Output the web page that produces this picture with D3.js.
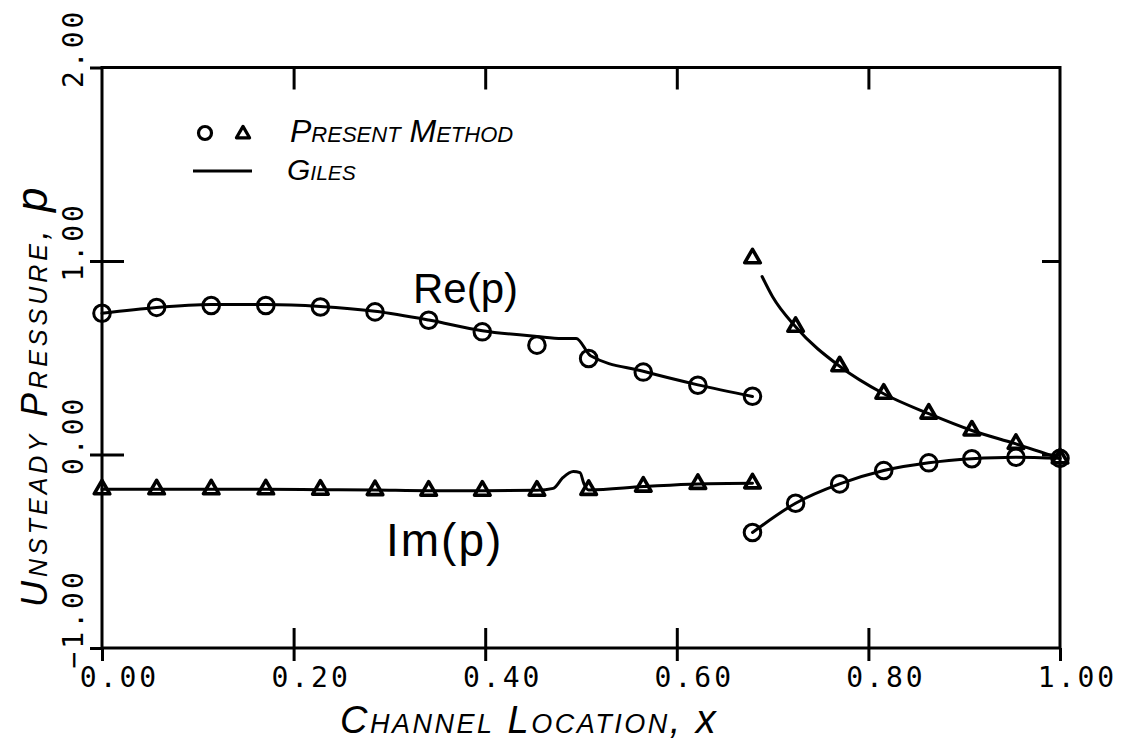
<!DOCTYPE html>
<html>
<head>
<meta charset="utf-8">
<script src="https://cdn.jsdelivr.net/npm/d3@7"></script>
<style>
  html, body { margin: 0; padding: 0; background: #fff; }
  svg { display: block; }
  .hand { font-family: "Liberation Sans", Arial, sans-serif; font-style: italic; font-variant: small-caps; fill: #000; }
  .lower { font-variant: normal; }
  .tick text { font-family: "DejaVu Sans Mono", monospace; font-size: 28px; letter-spacing: 3px; fill: #000; }
</style>
</head>
<body>
<svg id="chart" width="1122" height="747"></svg>
<script>
// Channel locations of the computed points
const xLeft  = [0.0, 0.057, 0.114, 0.171, 0.228, 0.285, 0.341, 0.397, 0.454, 0.508, 0.565, 0.622, 0.679];
const xRight = [0.679, 0.724, 0.770, 0.816, 0.863, 0.908, 0.954, 1.0];

// Present method, upstream part of the channel
const reLeft = [0.73, 0.76, 0.77, 0.77, 0.762, 0.737, 0.694, 0.634, 0.565, 0.496, 0.426, 0.358, 0.301];
const imLeft = [-0.18, -0.18, -0.18, -0.18, -0.182, -0.184, -0.187, -0.187, -0.187, -0.183, -0.166, -0.152, -0.149];

// Present method, downstream part of the channel
const triRight = [1.014, 0.66, 0.456, 0.314, 0.211, 0.124, 0.055, -0.02];
const cirRight = [-0.403, -0.252, -0.152, -0.083, -0.043, -0.022, -0.014, -0.02];

// Giles solution (solid lines)
const gilesReX = [0.0, 0.057, 0.114, 0.171, 0.228, 0.285, 0.341, 0.397, 0.454, 0.48, 0.495, 0.51, 0.565, 0.622, 0.679];
const gilesReY = [0.73, 0.76, 0.775, 0.775, 0.765, 0.74, 0.695, 0.64, 0.61, 0.60, 0.60, 0.51, 0.43, 0.36, 0.30];

const gilesImX = [0.0, 0.057, 0.114, 0.171, 0.228, 0.285, 0.341, 0.397, 0.454, 0.471, 0.481, 0.492, 0.499, 0.503, 0.508, 0.565, 0.622, 0.679];
const gilesImY = [-0.18, -0.18, -0.18, -0.18, -0.182, -0.184, -0.187, -0.187, -0.185, -0.175, -0.12, -0.088, -0.094, -0.15, -0.183, -0.166, -0.152, -0.149];

const gilesUpX = [0.689, 0.70, 0.724, 0.770, 0.816, 0.863, 0.908, 0.954, 1.0];
const gilesUpY = [0.92, 0.815, 0.66, 0.456, 0.314, 0.211, 0.124, 0.055, -0.02];

const gilesLoX = xRight;
const gilesLoY = [-0.403, -0.252, -0.152, -0.083, -0.043, -0.022, -0.014, -0.02];

// Axis ticks
const xTicks = [0.0, 0.2, 0.4, 0.6, 0.8, 1.0];
const xInnerTicks = [0.2, 0.4, 0.6, 0.8];
const yTicks = [-1.0, 0.0, 1.0, 2.0];
const yInnerTicks = [0.0, 1.0];

const svg = d3.select("#chart");
const x = d3.scaleLinear().domain([0, 1]).range([102, 1060]);
const y = d3.scaleLinear().domain([-1, 2]).range([648, 67.5]);

const fmt = d3.format(".2f");
const AX = 3;

// plotting frame
svg.append("rect")
  .attr("x", x(0)).attr("y", y(2))
  .attr("width", x(1) - x(0)).attr("height", y(-1) - y(2))
  .attr("fill", "none").attr("stroke", "#000").attr("stroke-width", AX);

function styleAxis(g) {
  g.select(".domain").remove();
  g.selectAll(".tick line").attr("stroke", "#000").attr("stroke-width", AX);
}

// bottom axis: outer ticks with labels
svg.append("g").attr("transform", `translate(0,${y(-1)})`)
  .call(d3.axisBottom(x).tickValues(xTicks).tickSize(13).tickFormat(fmt))
  .call(styleAxis)
  .call(g => g.selectAll(".tick text").attr("x", 17).attr("y", 39).attr("dy", 0));
// bottom axis: inner ticks
svg.append("g").attr("transform", `translate(0,${y(-1)})`)
  .call(d3.axisTop(x).tickValues(xInnerTicks).tickSize(20).tickFormat(""))
  .call(styleAxis);
// top axis: inner ticks
svg.append("g").attr("transform", `translate(0,${y(2)})`)
  .call(d3.axisBottom(x).tickValues(xInnerTicks).tickSize(22).tickFormat(""))
  .call(styleAxis);

// left axis: outer ticks with rotated labels
svg.append("g").attr("transform", `translate(${x(0)},0)`)
  .call(d3.axisLeft(y).tickValues(yTicks).tickSize(12).tickFormat(fmt))
  .call(styleAxis)
  .call(g => g.selectAll(".tick text")
    .attr("x", 0).attr("y", 0).attr("dy", 0)
    .attr("text-anchor", "start")
    .attr("transform", "translate(-19,20) rotate(-90)"));
// left axis: inner ticks
svg.append("g").attr("transform", `translate(${x(0)},0)`)
  .call(d3.axisRight(y).tickValues(yInnerTicks).tickSize(22).tickFormat(""))
  .call(styleAxis);
// right axis: inner ticks
svg.append("g").attr("transform", `translate(${x(1)},0)`)
  .call(d3.axisLeft(y).tickValues(yInnerTicks).tickSize(18).tickFormat(""))
  .call(styleAxis);

// Giles curves
const line = d3.line().x(d => x(d[0])).y(d => y(d[1])).curve(d3.curveMonotoneX);
const curves = [
  d3.zip(gilesReX, gilesReY),
  d3.zip(gilesImX, gilesImY),
  d3.zip(gilesUpX, gilesUpY),
  d3.zip(gilesLoX, gilesLoY)
];
svg.append("g").selectAll("path").data(curves).join("path")
  .attr("d", line)
  .attr("fill", "none").attr("stroke", "#000").attr("stroke-width", 3)
  .attr("stroke-linejoin", "round").attr("stroke-linecap", "round");

// Present method markers
const circlePts = d3.zip(xLeft, reLeft).concat(d3.zip(xRight, cirRight));
const trianglePts = d3.zip(xLeft, imLeft).concat(d3.zip(xRight, triRight));

svg.append("g").selectAll("circle").data(circlePts).join("circle")
  .attr("cx", d => x(d[0])).attr("cy", d => y(d[1])).attr("r", 8.3)
  .attr("fill", "none").attr("stroke", "#000").attr("stroke-width", 3);

const tri = d3.symbol(d3.symbolTriangle, 105);
svg.append("g").selectAll("path").data(trianglePts).join("path")
  .attr("d", tri)
  .attr("transform", d => `translate(${x(d[0])},${y(d[1])})`)
  .attr("fill", "none").attr("stroke", "#000").attr("stroke-width", 3.6)
  .attr("stroke-linejoin", "round");

// legend
const lg = svg.append("g");
lg.append("circle").attr("cx", 205).attr("cy", 133).attr("r", 6.5)
  .attr("fill", "none").attr("stroke", "#000").attr("stroke-width", 3.2);
lg.append("path").attr("d", d3.symbol(d3.symbolTriangle, 75))
  .attr("transform", "translate(243,134)")
  .attr("fill", "none").attr("stroke", "#000").attr("stroke-width", 3.2)
  .attr("stroke-linejoin", "round");
lg.append("text").attr("class", "hand").attr("x", 290).attr("y", 142)
  .style("font-size", "32px").text("Present Method");
lg.append("line").attr("x1", 193).attr("x2", 252).attr("y1", 171).attr("y2", 171)
  .attr("stroke", "#000").attr("stroke-width", 3.2);
lg.append("text").attr("class", "hand").attr("x", 287).attr("y", 180)
  .style("font-size", "30px").text("Giles");

// curve annotations
svg.append("text").attr("x", 413).attr("y", 303)
  .style("font-family", "Liberation Sans, Arial, sans-serif").style("font-size", "42px")
  .text("Re(p)");
svg.append("text").attr("x", 386).attr("y", 556)
  .style("font-family", "Liberation Sans, Arial, sans-serif").style("font-size", "46px")
  .style("letter-spacing", "2px")
  .text("Im(p)");

// axis titles
const xt = svg.append("text").attr("class", "hand").attr("x", 340).attr("y", 733)
  .style("font-size", "38px").style("letter-spacing", "2.5px");
xt.append("tspan").text("Channel Location, ");
xt.append("tspan").attr("class", "lower").style("font-size", "40px").text("x");

const yt = svg.append("text").attr("class", "hand")
  .attr("transform", "translate(47,607) rotate(-90)")
  .style("font-size", "36px").style("letter-spacing", "4px");
yt.append("tspan").text("Unsteady Pressure, ");
yt.append("tspan").attr("class", "lower").style("font-size", "44px").text("p");
</script>
</body>
</html>
